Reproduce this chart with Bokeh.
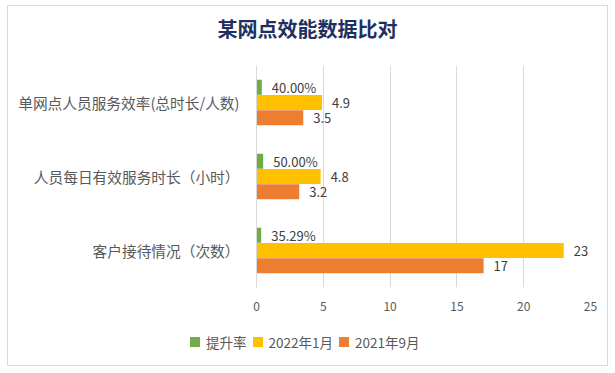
from bokeh.plotting import figure
from bokeh.layouts import column
from bokeh.models import FactorRange, FixedTicker, ColumnDataSource, LabelSet, Div
from bokeh.transform import dodge
from bokeh.core.properties import value
from bokeh.embed import file_html
from bokeh.resources import INLINE

# data (listed bottom to top)
title_text = "某网点效能数据比对"
categories = ["客户接待情况（次数）", "人员每日有效服务时长（小时）", "单网点人员服务效率(总时长/人数)"]
rate = [0.3529, 0.50, 0.40]
jan2022 = [23, 4.8, 4.9]
sep2021 = [17, 3.2, 3.5]
series_names = ["提升率", "2022年1月", "2021年9月"]
x_ticks = [0, 5, 10, 15, 20, 25]

colors = ["#70AD47", "#FFC000", "#ED7D31"]
offsets = [0.207, 0.0, -0.207]
FONT = "Noto Sans CJK SC"
W = 599

src = ColumnDataSource(data=dict(
    cat=categories,
    rate=rate,
    jan=jan2022,
    sep=sep2021,
    rate_lbl=[f"{v:.2%}" for v in rate],
    jan_lbl=[f"{v:g}" for v in jan2022],
    sep_lbl=[f"{v:g}" for v in sep2021],
))

# title strip
title_div = Div(
    text=f'<div style="width:{W}px;text-align:center;white-space:nowrap;font-family:\'{FONT}\';'
         f'font-size:20px;font-weight:bold;color:#1F3060;line-height:24px;padding-top:11px;margin:0;">'
         f'{title_text}</div>',
    width=W, height=45, margin=0,
)

p = figure(width=W, height=275, output_backend="svg", toolbar_location=None, title=None,
           y_range=FactorRange(*categories), x_range=(0, 25),
           min_border_left=248, min_border_right=17, min_border_top=14, min_border_bottom=39)
p.outline_line_color = None
p.background_fill_color = "white"
p.border_fill_color = "white"

for col, lbl, off, c in zip(["rate", "jan", "sep"], ["rate_lbl", "jan_lbl", "sep_lbl"], offsets, colors):
    p.hbar(y=dodge("cat", off, range=p.y_range), left=0, right=col, height=0.203,
           source=src, fill_color=c, line_color=None)
    ls = LabelSet(x=col, y=dodge("cat", off, range=p.y_range), text=lbl, source=src,
                  x_offset=10, text_baseline="middle", text_font=value(FONT),
                  text_font_size="13px", text_color="#404040")
    p.add_layout(ls)

p.xaxis.ticker = FixedTicker(ticks=x_ticks)
p.xaxis.axis_line_color = None
p.xaxis.major_tick_line_color = None
p.xaxis.minor_tick_line_color = None
p.xaxis.major_label_text_font = FONT
p.xaxis.major_label_text_font_size = "12px"
p.xaxis.major_label_text_color = "#595959"
p.xaxis.major_label_standoff = 8

p.yaxis.axis_line_color = "#D9D9D9"
p.yaxis.major_tick_line_color = None
p.yaxis.minor_tick_line_color = None
p.yaxis.major_label_text_font = FONT
p.yaxis.major_label_text_font_size = "14.7px"
p.yaxis.major_label_text_color = "#595959"
p.yaxis.major_label_standoff = 11

p.xgrid.grid_line_color = "#D9D9D9"
p.ygrid.grid_line_color = None

# legend strip below the chart
items_html = "".join(
    f'<span style="display:inline-block;width:10px;height:10px;background:{c};'
    f'vertical-align:middle;margin:0 6px 0 0;"></span>'
    f'<span style="vertical-align:middle;margin-right:6px;">{n}</span>'
    for n, c in zip(series_names, colors)
)
legend_div = Div(
    text=f'<div style="white-space:nowrap;font-family:\'{FONT}\';font-size:13.5px;'
         f'color:#595959;line-height:20px;padding:4px 0 0 182px;margin:0;">{items_html}</div>',
    width=W, height=39, margin=0,
)

layout = column(title_div, p, legend_div, spacing=0,
                styles={"border": "1px solid #D9D9D9", "margin-left": "7px", "margin-top": "5px",
                        "background": "white"})

open("out.html", "w").write(file_html(layout, INLINE))
